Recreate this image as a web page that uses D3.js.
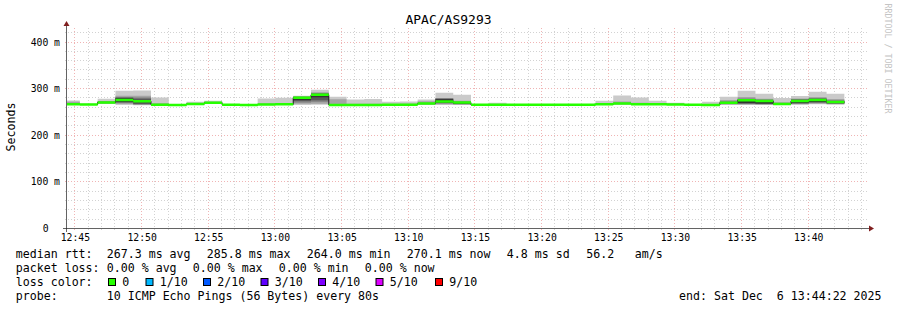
<!DOCTYPE html>
<html>
<head>
<meta charset="utf-8">
<script src="https://cdn.jsdelivr.net/npm/d3@7"></script>
<style>
  body { margin: 0; background: #fff; }
  text { font-family: "DejaVu Sans Mono", monospace; fill: #000; white-space: pre; }
</style>
</head>
<body>
<div id="chart"></div>
<script>
// --- data ---
const title = "APAC/AS9293";
const rangeStart = new Date("2025-12-06T12:44:22Z");
const rangeEnd = new Date("2025-12-06T13:44:22Z");
const firstStepEnd = new Date("2025-12-06T12:45:20Z");
const stepSeconds = 80;

// median rtt per step (ms)
const median = [
  265.7, 265.0, 269.3, 274.6, 272.0, 264.6, 264.0, 266.0, 268.6, 264.3,
  264.0, 265.0, 265.3, 279.6, 285.8, 264.0, 264.0, 264.0, 264.2, 264.6,
  266.8, 271.5, 269.0, 264.2, 264.2, 264.2, 264.2, 264.2, 264.2, 264.2,
  265.2, 267.0, 265.5, 265.5, 265.0, 264.2, 264.0, 268.6, 274.0, 272.3,
  266.0, 272.5, 274.4, 270.1
];

// the 10 sorted pings of each step (ms)
const pings = [
  [264.0, 264.6, 265.0, 265.3, 265.5, 265.9, 266.4, 268.0, 271.0, 273.6],
  [263.8, 264.2, 264.5, 264.7, 264.9, 265.1, 265.3, 265.6, 266.0, 266.6],
  [266.0, 267.0, 267.8, 268.5, 269.0, 269.6, 270.2, 271.0, 272.3, 277.0],
  [264.0, 266.0, 268.0, 269.5, 271.0, 278.2, 279.5, 281.0, 283.5, 294.5],
  [263.5, 264.5, 265.0, 266.0, 269.5, 274.5, 277.0, 280.0, 283.6, 295.0],
  [263.5, 263.9, 264.1, 264.3, 264.5, 264.7, 265.0, 265.6, 267.5, 280.0],
  [263.0, 263.4, 263.6, 263.8, 263.9, 264.1, 264.3, 264.5, 264.9, 265.4],
  [264.4, 264.9, 265.3, 265.6, 265.9, 266.1, 266.5, 267.0, 268.0, 270.7],
  [266.5, 267.0, 267.6, 268.0, 268.4, 268.8, 269.3, 270.0, 271.0, 272.9],
  [263.2, 263.6, 263.9, 264.1, 264.2, 264.4, 264.6, 264.9, 265.3, 265.9],
  [263.0, 263.3, 263.6, 263.8, 263.9, 264.1, 264.3, 264.6, 265.0, 265.6],
  [263.8, 264.2, 264.5, 264.7, 264.9, 265.1, 265.4, 265.9, 267.0, 277.9],
  [264.0, 264.4, 264.7, 265.0, 265.2, 265.4, 265.8, 266.4, 268.0, 279.3],
  [264.0, 266.5, 269.0, 272.5, 274.5, 279.6, 280.5, 281.5, 282.5, 283.6],
  [264.5, 266.5, 271.0, 274.0, 280.5, 285.8, 288.0, 289.5, 291.0, 296.4],
  [263.2, 263.6, 263.9, 264.0, 264.1, 264.3, 264.6, 265.2, 276.0, 281.5],
  [263.0, 263.4, 263.7, 263.9, 264.0, 264.2, 264.5, 265.0, 266.5, 275.7],
  [263.0, 263.4, 263.7, 263.9, 264.0, 264.2, 264.5, 265.0, 266.5, 276.5],
  [263.3, 263.7, 264.0, 264.1, 264.2, 264.4, 264.7, 265.2, 266.0, 271.0],
  [263.5, 263.9, 264.2, 264.4, 264.5, 264.7, 265.0, 265.5, 266.5, 271.2],
  [264.5, 265.2, 265.8, 266.3, 266.7, 267.0, 267.6, 268.5, 272.0, 275.7],
  [264.0, 265.5, 267.0, 268.0, 269.0, 276.0, 277.5, 278.0, 278.7, 290.0],
  [264.0, 264.8, 265.4, 266.0, 267.0, 269.5, 270.3, 271.2, 273.0, 285.6],
  [263.3, 263.7, 264.0, 264.1, 264.2, 264.3, 264.5, 264.8, 265.2, 265.8],
  [263.3, 263.7, 264.0, 264.1, 264.2, 264.4, 264.6, 265.0, 265.8, 268.6],
  [263.3, 263.6, 263.9, 264.1, 264.2, 264.3, 264.5, 264.8, 265.2, 265.7],
  [263.2, 263.6, 263.9, 264.0, 264.2, 264.3, 264.5, 264.7, 265.1, 265.6],
  [263.3, 263.7, 263.9, 264.1, 264.2, 264.4, 264.6, 264.9, 265.3, 265.9],
  [263.2, 263.6, 263.9, 264.0, 264.2, 264.3, 264.5, 264.8, 265.2, 265.8],
  [263.3, 263.6, 263.9, 264.1, 264.2, 264.4, 264.6, 264.8, 265.1, 265.7],
  [264.0, 264.4, 264.7, 264.9, 265.1, 265.3, 265.6, 266.2, 267.5, 273.0],
  [264.5, 265.2, 265.8, 266.3, 266.8, 267.2, 267.8, 268.8, 271.5, 284.0],
  [263.8, 264.3, 264.8, 265.1, 265.4, 265.7, 266.1, 266.8, 268.5, 280.0],
  [264.2, 264.6, 265.0, 265.2, 265.4, 265.6, 266.0, 266.6, 267.8, 273.2],
  [263.9, 264.3, 264.6, 264.8, 264.9, 265.1, 265.4, 265.8, 266.5, 268.8],
  [263.3, 263.7, 263.9, 264.1, 264.2, 264.3, 264.6, 264.9, 265.3, 265.9],
  [263.0, 263.4, 263.7, 263.9, 264.0, 264.2, 264.5, 265.0, 266.2, 270.7],
  [264.0, 265.0, 265.8, 266.5, 267.5, 269.5, 270.5, 272.0, 274.5, 281.4],
  [264.0, 265.0, 266.0, 267.0, 268.0, 274.0, 276.0, 278.0, 281.0, 294.5],
  [264.0, 264.8, 265.5, 266.5, 267.3, 272.5, 274.0, 275.5, 277.5, 288.0],
  [264.2, 264.8, 265.2, 265.6, 265.9, 266.2, 266.8, 267.8, 270.0, 279.0],
  [264.2, 265.5, 266.5, 267.5, 268.5, 273.0, 275.0, 276.5, 278.0, 283.2],
  [265.5, 266.5, 268.0, 269.5, 270.5, 275.0, 277.0, 279.0, 281.0, 292.0],
  [264.8, 265.5, 266.3, 267.3, 268.5, 271.0, 272.5, 274.0, 276.5, 287.9]
];

const yTickValues = [0, 100, 200, 300, 400];
const yTickLabels = ["0", "100 m", "200 m", "300 m", "400 m"];

const rttLabel = "median rtt:";
const rttStats = ["267.3 ms avg", "285.8 ms max", "264.0 ms min", "270.1 ms now", "4.8 ms sd", "56.2", "am/s"];
const lossLabel = "packet loss:";
const lossStats = ["0.00 % avg", "0.00 % max", "0.00 % min", "0.00 % now"];
const colorLabel = "loss color:";
const lossNames = ["0", "1/10", "2/10", "3/10", "4/10", "5/10", "9/10"];
const lossColors = ["#26ff00", "#00b8ff", "#0059ff", "#5e00ff", "#7e00ff", "#dd00ff", "#ff0000"];
const probeLabel = "probe:";
const probeText = "10 ICMP Echo Pings (56 Bytes) every 80s";
const endText = "end: Sat Dec  6 13:44:22 2025";
const watermark = "RRDTOOL / TOBI OETIKER";

// --- layout ---
const width = 897, height = 310;
const x0 = 67, x1 = 867, yBase = 228, yTop = 28;

const svg = d3.select("#chart").append("svg")
  .attr("width", width)
  .attr("height", height)
  .attr("viewBox", [0, 0, width, height]);

svg.append("rect").attr("width", width).attr("height", height).attr("fill", "#fff");

const x = d3.scaleUtc().domain([rangeStart, rangeEnd]).range([x0, x1]);
const y = d3.scaleLinear().domain([0, 429]).range([yBase, yTop]);

// grid
const minorCol = "#d2d2d2", majorCol = "#f0b4b4";
const grid = svg.append("g");
const minutes = d3.utcMinute.range(rangeStart, rangeEnd);
grid.selectAll(".vmin")
  .data(minutes.filter(d => d.getUTCMinutes() % 5 !== 0))
  .join("line")
  .attr("x1", d => Math.round(x(d)) - 0.5).attr("x2", d => Math.round(x(d)) - 0.5)
  .attr("y1", yBase + 2).attr("y2", yTop)
  .attr("stroke", minorCol).attr("stroke-width", 1)
  .attr("stroke-dasharray", "1,2");

const hMinor = d3.range(20, 429, 20).filter(v => v % 100 !== 0);
grid.selectAll(".hmin")
  .data(hMinor)
  .join("line")
  .attr("x1", x0 - 2).attr("x2", x1 + 2)
  .attr("y1", d => Math.round(y(d)) + 0.5).attr("y2", d => Math.round(y(d)) + 0.5)
  .attr("stroke", minorCol).attr("stroke-width", 1)
  .attr("stroke-dasharray", "1,2");

grid.selectAll(".vmaj")
  .data(minutes.filter(d => d.getUTCMinutes() % 5 === 0))
  .join("line")
  .attr("x1", d => Math.round(x(d)) - 0.5).attr("x2", d => Math.round(x(d)) - 0.5)
  .attr("y1", yBase + 2).attr("y2", yTop)
  .attr("stroke", majorCol).attr("stroke-width", 1)
  .attr("stroke-dasharray", "1,2");

grid.selectAll(".hmaj")
  .data(yTickValues.filter(v => v > 0))
  .join("line")
  .attr("x1", x0 - 2).attr("x2", x1 + 2)
  .attr("y1", d => Math.round(y(d)) + 0.5).attr("y2", d => Math.round(y(d)) + 0.5)
  .attr("stroke", majorCol).attr("stroke-width", 1)
  .attr("stroke-dasharray", "1,2");

// data rows: first row holds the clipped start of step 0
const stepEnds = median.map((m, i) => new Date(+firstStepEnd + i * stepSeconds * 1000));
const rows = [{t: rangeStart, m: median[0], p: pings[0]}]
  .concat(median.map((m, i) => ({t: stepEnds[i], m: m, p: pings[i]})));

svg.append("clipPath").attr("id", "plot")
  .append("rect").attr("x", x0).attr("y", yTop).attr("width", x1 - x0).attr("height", yBase - yTop);

const plot = svg.append("g").attr("clip-path", "url(#plot)");

// smoke: outer band lightest, inner darker
const smokeColors = ["#cacaca", "#a4a4a4", "#7e7e7e", "#585858", "#323232"];
smokeColors.forEach((c, b) => {
  const area = d3.area()
    .x(d => x(d.t))
    .y0(d => y(d.p[b]))
    .y1(d => y(d.p[9 - b]))
    .curve(d3.curveStepBefore);
  plot.append("path").attr("d", area(rows)).attr("fill", c);
});

// median line, then loss-coloured band
const medLine = d3.line().x(d => x(d.t)).y(d => y(d.m)).curve(d3.curveStepBefore);
plot.append("path").attr("d", medLine(rows))
  .attr("fill", "none").attr("stroke", "#202020").attr("stroke-width", 1);

const medBand = d3.area()
  .x(d => x(d.t))
  .y0(d => y(d.m) + 1.25)
  .y1(d => y(d.m) - 1.25)
  .curve(d3.curveStepBefore);
plot.append("path").attr("d", medBand(rows)).attr("fill", lossColors[0]);

// axes with arrows
svg.append("line")
  .attr("x1", x0 - 4).attr("x2", x1 + 4).attr("y1", yBase + 0.5).attr("y2", yBase + 0.5)
  .attr("stroke", "#1f1f1f").attr("stroke-width", 0.7);
svg.append("line")
  .attr("x1", x0 - 0.5).attr("x2", x0 - 0.5).attr("y1", yBase + 4).attr("y2", yTop - 4)
  .attr("stroke", "#1f1f1f").attr("stroke-width", 0.7);
svg.append("path")
  .attr("d", `M${x1 + 2},${yBase + 0.5 - 3}L${x1 + 2},${yBase + 0.5 + 3}L${x1 + 7},${yBase + 0.5}Z`)
  .attr("fill", "#801f1f");
svg.append("path")
  .attr("d", `M${x0 - 3.5},${yTop - 2}L${x0 + 2.5},${yTop - 2}L${x0 - 0.5},${yTop - 7}Z`)
  .attr("fill", "#801f1f");

// axis labels
svg.append("g").selectAll("text")
  .data(yTickValues)
  .join("text")
  .attr("x", (d, i) => i === 0 ? 48.6 : 60)
  .attr("y", d => Math.round(y(d)) + 4)
  .attr("text-anchor", "end")
  .attr("font-size", 9.75)
  .text((d, i) => yTickLabels[i]);

svg.append("g").selectAll("text")
  .data(d3.utcMinute.every(5).range(rangeStart, rangeEnd))
  .join("text")
  .attr("x", d => x(d))
  .attr("y", 240.8)
  .attr("text-anchor", "middle")
  .attr("font-size", 9.75)
  .text(d3.utcFormat("%H:%M"));

svg.append("text")
  .attr("transform", "translate(15,127) rotate(-90)")
  .attr("text-anchor", "middle")
  .attr("font-size", 11.6)
  .text("Seconds");

svg.append("text")
  .attr("x", 448.5).attr("y", 24)
  .attr("text-anchor", "middle")
  .attr("font-size", 13)
  .text(title);

svg.append("text")
  .attr("transform", "translate(885,58.5) rotate(90)")
  .attr("text-anchor", "middle")
  .attr("font-size", 8.3)
  .style("fill", "#c4c4c4")
  .text(watermark);

// legend
const lg = svg.append("g").attr("font-size", 11.6);
lg.append("text").attr("x", 15.8).attr("y", 258.3).text(rttLabel);
lg.selectAll(".rtt").data(rttStats).join("text")
  .attr("x", (d, i) => [106.8, 206.8, 306.8, 406.8, 506.8, 586.2, 634.8][i])
  .attr("y", 258.3).text(d => d);

lg.append("text").attr("x", 15.8).attr("y", 272.3).text(lossLabel);
lg.selectAll(".loss").data(lossStats).join("text")
  .attr("x", (d, i) => 106.8 + i * 86)
  .attr("y", 272.3).text(d => d);

lg.append("text").attr("x", 15.8).attr("y", 286.3).text(colorLabel);
const boxX = [108.5, 146, 203.5, 261, 318.5, 376, 435.5];
lg.selectAll(".box").data(lossColors).join("rect")
  .attr("x", (d, i) => boxX[i]).attr("y", 278.5)
  .attr("width", 7).attr("height", 7)
  .attr("fill", d => d).attr("stroke", "#000").attr("stroke-width", 1);
lg.selectAll(".lname").data(lossNames).join("text")
  .attr("x", (d, i) => boxX[i] + 13.8)
  .attr("y", 286.3).text(d => d);

lg.append("text").attr("x", 15.8).attr("y", 300.3).text(probeLabel);
lg.append("text").attr("x", 106.8).attr("y", 300.3).text(probeText);
lg.append("text").attr("x", 881.5).attr("y", 300.3).attr("text-anchor", "end").text(endText);
</script>
</body>
</html>
